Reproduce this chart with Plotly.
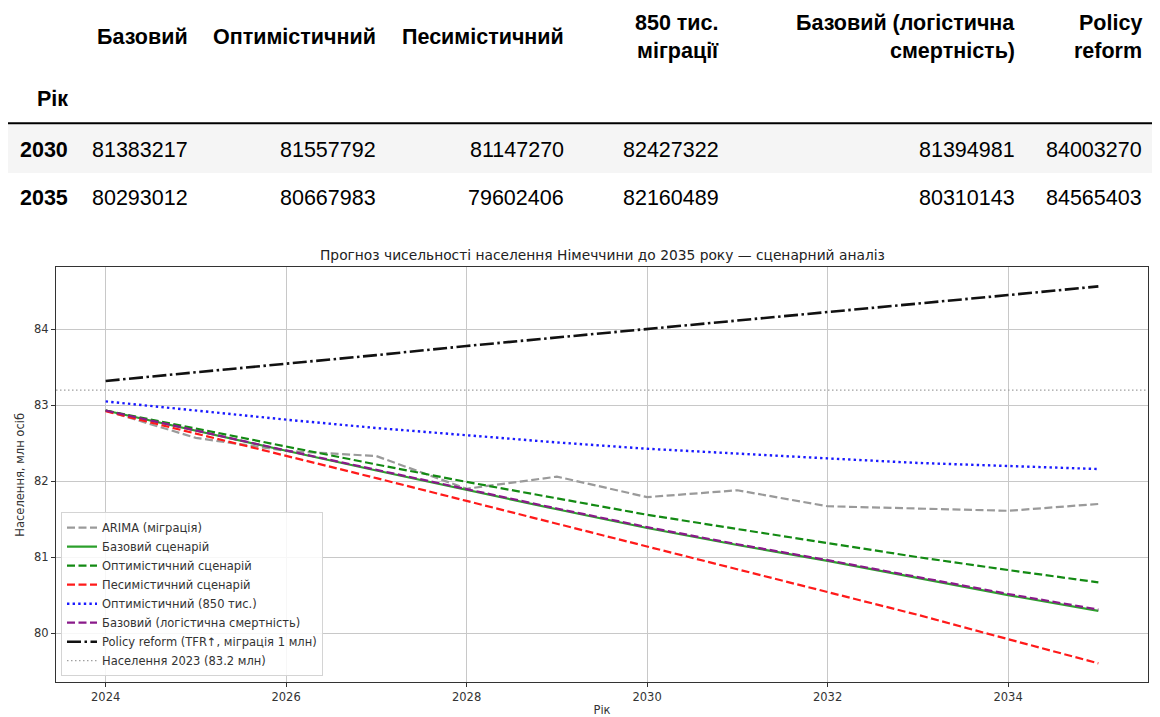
import plotly.graph_objects as go

W, H = 1160, 717

# ---------------- data ----------------
years = list(range(2024, 2036))
arima = [82.93, 82.57, 82.40, 82.33, 81.90, 82.06, 81.79, 81.88, 81.67, 81.64, 81.61, 81.70]
base = [82.93, 82.66, 82.40, 82.14, 81.88, 81.63, 81.383, 81.16, 80.95, 80.72, 80.50, 80.293]
optimistic = [82.93, 82.69, 82.45, 82.22, 81.99, 81.77, 81.558, 81.37, 81.18, 81.00, 80.83, 80.668]
pessimistic = [82.92, 82.63, 82.33, 82.04, 81.74, 81.44, 81.147, 80.85, 80.54, 80.24, 79.92, 79.602]
migration_850 = [83.05, 82.93, 82.81, 82.70, 82.60, 82.51, 82.427, 82.36, 82.30, 82.24, 82.20, 82.160]
base_logistic = [82.93, 82.665, 82.405, 82.15, 81.89, 81.64, 81.395, 81.17, 80.96, 80.735, 80.515, 80.310]
policy_reform = [83.32, 83.43, 83.55, 83.66, 83.78, 83.89, 84.003, 84.12, 84.23, 84.34, 84.45, 84.565]
population_2023 = 83.2

x_ticks = [2024, 2026, 2028, 2030, 2032, 2034]
y_ticks = [80, 81, 82, 83, 84]

# table
table_index_name = "Рік"
table_years = [2030, 2035]
table_headers = [["Базовий"], ["Оптимістичний"], ["Песимістичний"],
                 ["850 тис.", "міграції"], ["Базовий (логістична", "смертність)"],
                 ["Policy", "reform"]]
tbl_base = [81383217, 80293012]
tbl_optimistic = [81557792, 80667983]
tbl_pessimistic = [81147270, 79602406]
tbl_850 = [82427322, 82160489]
tbl_logistic = [81394981, 80310143]
tbl_policy = [84003270, 84565403]
table_columns = [tbl_base, tbl_optimistic, tbl_pessimistic, tbl_850, tbl_logistic, tbl_policy]

# ---------------- layout helpers ----------------
def px(x):
    return x / W

def py(y):
    return 1 - y / H

PLOT_L, PLOT_R, PLOT_T, PLOT_B = 56, 1148, 269, 686
MPL_FONT = "DejaVu Sans"
TBL_FONT = "Liberation Sans, Arial, sans-serif"
TBL_SIZE = 21.5

fig = go.Figure()

series = [
    ("ARIMA (міграція)", arima, dict(color="#9a9a9a", width=2.2, dash="8px,3.5px")),
    ("Базовий сценарій", base, dict(color="#2ca02c", width=2.2)),
    ("Оптимістичний сценарій", optimistic, dict(color="#138a13", width=2.2, dash="8px,3.5px")),
    ("Песимістичний сценарій", pessimistic, dict(color="#ff1a1a", width=2.2, dash="8px,3.5px")),
    ("Оптимістичний (850 тис.)", migration_850, dict(color="#1a1aff", width=2.4, dash="2.4px,3.2px")),
    ("Базовий (логістична смертність)", base_logistic, dict(color="#8a1a8a", width=2.2, dash="8px,3.5px")),
    ("Policy reform (TFR↑, міграція 1 млн)", policy_reform, dict(color="#111111", width=2.6, dash="14px,3.5px,2.5px,3.5px")),
]
for name, ys, line in series:
    fig.add_trace(go.Scatter(x=years, y=ys, mode="lines", name=name, line=line,
                             hoverinfo="x+y+name"))

# axis ranges (matplotlib-like 5% margins)
xmin, xmax = min(years), max(years)
xpad = 0.05 * (xmax - xmin)
x_range = [xmin - xpad, xmax + xpad]
all_y = arima + base + optimistic + pessimistic + migration_850 + base_logistic + policy_reform + [population_2023]
ymin, ymax = min(all_y), max(all_y)
ypad = 0.05 * (ymax - ymin)
y_range = [ymin - ypad, ymax + ypad]

fig.add_trace(go.Scatter(x=x_range, y=[population_2023, population_2023], mode="lines",
                         name="Населення 2023 (83.2 млн)",
                         line=dict(color="#a0a0a0", width=1.2, dash="1.5px,2.5px")))

axis_common = dict(showgrid=True, gridcolor="#c8c8c8", gridwidth=1, zeroline=False,
                   showline=True, linecolor="#333333", linewidth=1.2, mirror=True,
                   ticks="outside", ticklen=4, tickcolor="#333333",
                   tickfont=dict(family=MPL_FONT, size=11.5, color="#333333"))

fig.update_layout(
    width=W, height=H,
    margin=dict(l=0, r=0, t=0, b=0),
    paper_bgcolor="white", plot_bgcolor="white",
    showlegend=True,
    xaxis=dict(domain=[px(PLOT_L), px(PLOT_R)], range=x_range, tickvals=x_ticks,
               title=dict(text="Рік", font=dict(family=MPL_FONT, size=11.5, color="#333333"), standoff=5),
               **axis_common),
    yaxis=dict(domain=[py(PLOT_B), py(PLOT_T)], range=y_range, tickvals=y_ticks,
               title=dict(text="Населення, млн осіб", font=dict(family=MPL_FONT, size=11.5, color="#333333"), standoff=6),
               **axis_common),
    legend=dict(x=px(61), y=py(680), xanchor="left", yanchor="bottom",
                bgcolor="rgba(255,255,255,0.85)", bordercolor="#d4d4d4", borderwidth=1,
                font=dict(family=MPL_FONT, size=11.5, color="#333333"),
                tracegroupgap=0, itemwidth=30),
)

annotations = []
# chart title
annotations.append(dict(text="Прогноз чисельності населення Німеччини до 2035 року — сценарний аналіз",
                        xref="paper", yref="paper", x=px((PLOT_L + PLOT_R) / 2), y=py(256),
                        xanchor="center", yanchor="middle", showarrow=False,
                        font=dict(family=MPL_FONT, size=13.8, color="#222222")))

# ---------------- table ----------------
TBL_LEFT, TBL_RIGHT = 8, 1152
col_right = [190, 378, 566, 721, 1017, 1144]
idx_right = 70
header_center, header_line_gap = 37, 28
index_name_y = 100
rule_y = 124
row_h = 49
row_text_y = [151, 199]

for lines, xr in zip(table_headers, col_right):
    n = len(lines)
    for i, t in enumerate(lines):
        yy = header_center + (i - (n - 1) / 2) * header_line_gap
        annotations.append(dict(text="<b>%s</b>" % t, xref="paper", yref="paper",
                                x=px(xr), y=py(yy), xanchor="right", yanchor="middle",
                                showarrow=False, font=dict(family=TBL_FONT, size=TBL_SIZE, color="#000000")))
annotations.append(dict(text="<b>%s</b>" % table_index_name, xref="paper", yref="paper",
                        x=px(idx_right), y=py(index_name_y), xanchor="right", yanchor="middle",
                        showarrow=False, font=dict(family=TBL_FONT, size=TBL_SIZE, color="#000000")))
for r, yr in enumerate(table_years):
    annotations.append(dict(text="<b>%d</b>" % yr, xref="paper", yref="paper",
                            x=px(idx_right), y=py(row_text_y[r]), xanchor="right", yanchor="middle",
                            showarrow=False, font=dict(family=TBL_FONT, size=TBL_SIZE, color="#000000")))
    for col, xr in zip(table_columns, col_right):
        annotations.append(dict(text="%d" % col[r], xref="paper", yref="paper",
                                x=px(xr), y=py(row_text_y[r]), xanchor="right", yanchor="middle",
                                showarrow=False, font=dict(family=TBL_FONT, size=TBL_SIZE, color="#000000")))

shapes = [
    dict(type="rect", xref="paper", yref="paper", x0=px(TBL_LEFT), x1=px(TBL_RIGHT),
         y0=py(rule_y + 1 + row_h), y1=py(rule_y + 1), fillcolor="#f5f5f5", line=dict(width=0), layer="below"),
    dict(type="line", xref="paper", yref="paper", x0=px(TBL_LEFT), x1=px(TBL_RIGHT),
         y0=py(rule_y), y1=py(rule_y), line=dict(color="#000000", width=2)),
]

fig.update_layout(annotations=annotations, shapes=shapes)
fig.write_html("out.html")
